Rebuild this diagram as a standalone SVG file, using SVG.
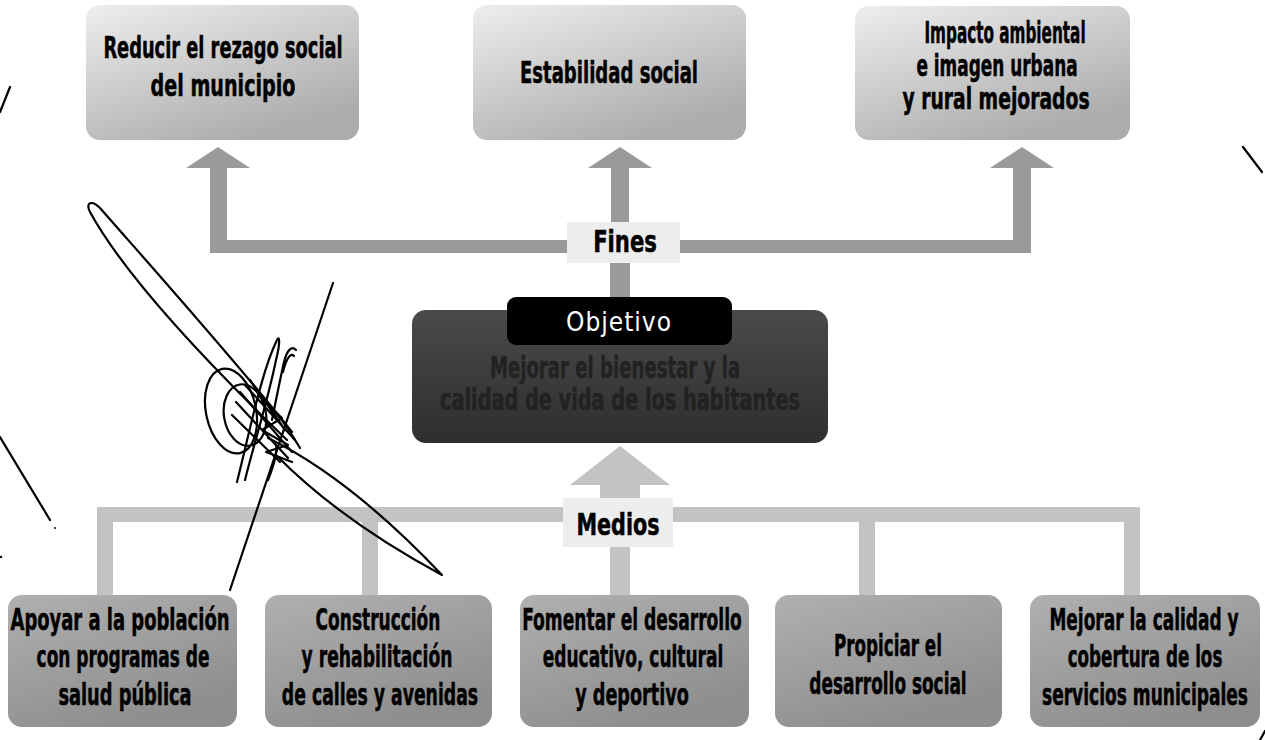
<svg xmlns="http://www.w3.org/2000/svg" width="1265" height="740" viewBox="0 0 1265 740">
<style>
.t{font-family:"DejaVu Sans Condensed","DejaVu Sans",sans-serif;font-weight:bold;font-stretch:condensed;text-anchor:middle;fill:#000;font-size:30px;stroke:#000;stroke-width:0.5}
.top{fill:url(#gTop)}
.bot{fill:url(#gBot)}
.c1{fill:#9a9a9a}
.c2{fill:#c3c3c3}
.lab{fill:#ededed}
.sig{fill:none;stroke:#000;stroke-width:2.2;stroke-linecap:round;stroke-linejoin:round}
</style>
<defs>
<linearGradient id="gTop" x1="0" y1="0" x2="0.6" y2="1">
<stop offset="0" stop-color="#eeeeee"/>
<stop offset="1" stop-color="#acacac"/>
</linearGradient>
<linearGradient id="gBot" x1="0" y1="0" x2="0.5" y2="1">
<stop offset="0" stop-color="#b0b0b0"/>
<stop offset="1" stop-color="#8e8e8e"/>
</linearGradient>
<linearGradient id="gObj" x1="0" y1="0" x2="0" y2="1">
<stop offset="0" stop-color="#4a4a4a"/>
<stop offset="1" stop-color="#2e2e2e"/>
</linearGradient>
</defs>
<rect width="1265" height="740" fill="#fff"/>

<g id="connectors">
<rect class="c1" x="210" y="240" width="821" height="13"/>
<rect class="c1" x="210" y="166" width="17" height="87"/>
<polygon class="c1" points="186,168 218,147 250,168"/>
<rect class="c1" x="611" y="166" width="18" height="80"/>
<polygon class="c1" points="588,168 620,147 652,168"/>
<rect class="c1" x="1013" y="166" width="18" height="87"/>
<polygon class="c1" points="990,168 1022,147 1054,168"/>
<rect class="c1" x="610" y="253" width="20" height="50"/>
<polygon class="c2" points="570,485 620,446 670,485"/>
<rect class="c2" x="600" y="484" width="40" height="16"/>
<rect class="c2" x="97" y="507" width="1043" height="15"/>
<rect class="c2" x="97" y="507" width="16" height="90"/>
<rect class="c2" x="362" y="507" width="16" height="90"/>
<rect class="c2" x="610" y="540" width="20" height="57"/>
<rect class="c2" x="859" y="507" width="16" height="90"/>
<rect class="c2" x="1124" y="507" width="16" height="90"/>
</g>

<g id="top1">
<rect class="top" x="86" y="5" width="273" height="135" rx="14"/>
<text class="t" transform="translate(223 0) scale(.65 1)" y="58" textLength="368" lengthAdjust="spacingAndGlyphs">Reducir el rezago social</text>
<text class="t" transform="translate(223 0) scale(.65 1)" y="96" textLength="223" lengthAdjust="spacingAndGlyphs">del municipio</text>
</g>
<g id="top2">
<rect class="top" x="473" y="5" width="273" height="135" rx="14"/>
<text class="t" transform="translate(609 0) scale(.65 1)" y="83" textLength="274" lengthAdjust="spacingAndGlyphs">Estabilidad social</text>
</g>
<g id="top3">
<rect class="top" x="855" y="6" width="275" height="134" rx="14"/>
<text class="t" transform="translate(1005 0) scale(.65 1)" y="43" textLength="248" lengthAdjust="spacingAndGlyphs">Impacto ambiental</text>
<text class="t" transform="translate(997 0) scale(.65 1)" y="76" textLength="248" lengthAdjust="spacingAndGlyphs">e imagen urbana</text>
<text class="t" transform="translate(996 0) scale(.65 1)" y="109" textLength="288" lengthAdjust="spacingAndGlyphs">y rural mejorados</text>
</g>

<g id="fines">
<rect class="lab" x="567" y="222" width="113" height="41"/>
<text class="t" transform="translate(625 0) scale(.65 1)" y="252" textLength="98" lengthAdjust="spacingAndGlyphs">Fines</text>
</g>

<g id="objetivo">
<rect x="412" y="310" width="416" height="133" rx="14" fill="url(#gObj)"/>
<rect x="507" y="297" width="225" height="48" rx="9" fill="#000"/>
<text x="619" y="331" style="font-family:'DejaVu Sans Condensed','DejaVu Sans',sans-serif;font-stretch:condensed;font-size:26px;fill:#fff;text-anchor:middle;letter-spacing:1px">Objetivo</text>
<text class="t" transform="translate(615 0) scale(.65 1)" y="378" style="fill:#222;stroke:#222" textLength="385" lengthAdjust="spacingAndGlyphs">Mejorar el bienestar y la</text>
<text class="t" transform="translate(620 0) scale(.65 1)" y="410" style="fill:#222;stroke:#222" textLength="554" lengthAdjust="spacingAndGlyphs">calidad de vida de los habitantes</text>
</g>

<g id="medios">
<rect class="lab" x="563" y="498" width="110" height="49"/>
<text class="t" transform="translate(618 0) scale(.65 1)" y="535" textLength="128" lengthAdjust="spacingAndGlyphs">Medios</text>
</g>

<g id="bot1">
<rect class="bot" x="8" y="595" width="229" height="132" rx="14"/>
<text class="t" transform="translate(120 0) scale(.65 1)" y="630" textLength="337" lengthAdjust="spacingAndGlyphs">Apoyar a la población</text>
<text class="t" transform="translate(123 0) scale(.65 1)" y="667" textLength="266" lengthAdjust="spacingAndGlyphs">con programas de</text>
<text class="t" transform="translate(125 0) scale(.65 1)" y="705" textLength="205" lengthAdjust="spacingAndGlyphs">salud pública</text>
</g>
<g id="bot2">
<rect class="bot" x="265" y="595" width="227" height="132" rx="14"/>
<text class="t" transform="translate(378 0) scale(.65 1)" y="630" textLength="192" lengthAdjust="spacingAndGlyphs">Construcción</text>
<text class="t" transform="translate(377 0) scale(.65 1)" y="667" textLength="232" lengthAdjust="spacingAndGlyphs">y rehabilitación</text>
<text class="t" transform="translate(380 0) scale(.65 1)" y="705" textLength="302" lengthAdjust="spacingAndGlyphs">de calles y avenidas</text>
</g>
<g id="bot3">
<rect class="bot" x="520" y="595" width="229" height="132" rx="14"/>
<text class="t" transform="translate(632 0) scale(.65 1)" y="630" textLength="338" lengthAdjust="spacingAndGlyphs">Fomentar el desarrollo</text>
<text class="t" transform="translate(633 0) scale(.65 1)" y="667" textLength="278" lengthAdjust="spacingAndGlyphs">educativo, cultural</text>
<text class="t" transform="translate(632 0) scale(.65 1)" y="705" textLength="175" lengthAdjust="spacingAndGlyphs">y deportivo</text>
</g>
<g id="bot4">
<rect class="bot" x="775" y="595" width="227" height="132" rx="14"/>
<text class="t" transform="translate(888 0) scale(.65 1)" y="656" textLength="166" lengthAdjust="spacingAndGlyphs">Propiciar el</text>
<text class="t" transform="translate(888 0) scale(.65 1)" y="694" textLength="242" lengthAdjust="spacingAndGlyphs">desarrollo social</text>
</g>
<g id="bot5">
<rect class="bot" x="1030" y="595" width="230" height="132" rx="14"/>
<text class="t" transform="translate(1144 0) scale(.65 1)" y="630" textLength="291" lengthAdjust="spacingAndGlyphs">Mejorar la calidad y</text>
<text class="t" transform="translate(1145 0) scale(.65 1)" y="667" textLength="238" lengthAdjust="spacingAndGlyphs">cobertura de los</text>
<text class="t" transform="translate(1145 0) scale(.65 1)" y="705" textLength="317" lengthAdjust="spacingAndGlyphs">servicios municipales</text>
</g>

<g id="marks">
<path class="sig" d="M10,87 L0,112" stroke-width="1.6"/>
<path class="sig" d="M0,437 L50,520" stroke-width="1.8"/>
<circle cx="55" cy="528" r="1" fill="#000"/>
<circle cx="1" cy="557" r="1.2" fill="#000"/>
<path class="sig" d="M1243,147 L1262,172" stroke-width="3"/>
<path class="sig" d="M1260,740 L1265,731" stroke-width="2.5"/>
</g>

<g id="signature">
<path class="sig" d="M287,440 C230,385 130,285 90,212 C85,202 92,200 100,208 C150,265 235,360 292,432"/>
<path class="sig" d="M333,283 L230,590" stroke-width="2.6"/>
<ellipse class="sig" cx="231" cy="411" rx="25" ry="43" transform="rotate(-12 231 411)"/>
<ellipse class="sig" cx="245" cy="415" rx="21" ry="31" transform="rotate(-10 245 415)"/>
<path class="sig" d="M237,482 C250,430 262,370 277,340 C280,334 280,345 276,360 C268,400 255,440 245,480"/>
<path class="sig" d="M296,350 C292,345 287,350 284,362 C280,380 276,400 272,420 M283,372 C286,360 290,352 294,356"/>
<path class="sig" d="M268,480 C272,470 278,455 276,445"/>
<path class="sig" d="M268,438 Q350,478 442,575 Q340,520 276,455" stroke-width="2.6"/>
<path class="sig" d="M240,392 L292,452 M236,402 L288,458 M245,385 L295,440 M232,415 L280,462 M250,380 L285,430 M262,400 L282,418 L262,430 L288,445 L266,452 L292,462"/>
<path class="sig" d="M258,395 C275,410 290,430 300,448" stroke-width="3.5"/>
</g>
</svg>
